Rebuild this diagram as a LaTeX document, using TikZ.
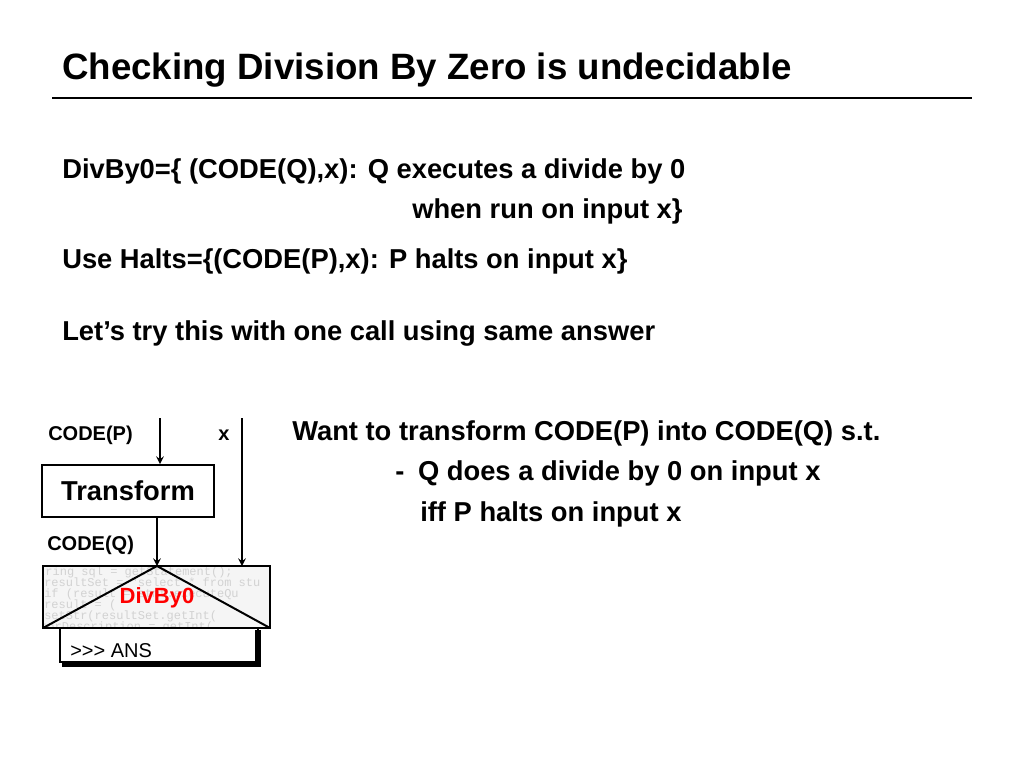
\documentclass[tikz,border=0pt]{standalone}
\usepackage{fontspec}
\setmainfont{Liberation Sans}[UprightFont={* Bold}, BoldFont={* Bold}]
\newfontfamily\ansfont{Liberation Sans}
\newfontfamily\codefont{Liberation Mono}
\usetikzlibrary{positioning}
\tikzset{
  txt/.style={anchor=base west, inner sep=0pt, font=\fontsize{20.5}{25}\selectfont},
  small/.style={anchor=base west, inner sep=0pt, font=\fontsize{15}{18}\selectfont},
  flow/.style={->, >=stealth, line width=1.5pt},
  codeline/.style={anchor=base west, inner sep=0pt, text=gray!35, font=\codefont\fontsize{9}{10}\selectfont}
}
\begin{document}
\begin{tikzpicture}[x=0.75pt, y=-0.75pt]
   \useasboundingbox (0,0) rectangle (1024,768);

   % Title
      \node[anchor=base west, inner sep=0pt, font=\fontsize{27.5}{32}\selectfont] (title) at (62,79) {Checking Division By Zero is undecidable};
      \draw[line width=2.2pt] (52,98) -- (972,98);

   % Definitions
      \node[txt] (def1) at (62,178) {\textbf{DivBy0}=\{ (CODE(\textbf{Q}),\textbf{x}): \textbf{Q} executes a divide by 0};
      \node[txt] (def2) at (412,218) {when run on input \textbf{x}\}};
      \node[txt] (use)  at (62,268) {Use \textbf{Halts}=\{(CODE(\textbf{P}),\textbf{x}): \textbf{P} halts on input \textbf{x}\}};
      \node[txt] (try)  at (62,340) {Let's try this with one call using same answer};

   % Goal
      \node[txt] (want) at (292,440) {Want to transform CODE(\textbf{P}) into CODE(\textbf{Q}) s.t.};
      \node[txt] (cnd1) at (395,480) {-\enspace\textbf{Q} does a divide by 0 on input \textbf{x}};
      \node[txt] (cnd2) at (420,521) {iff \textbf{P} halts on input \textbf{x}};

   % Machine
      \node[small] (codep) at (48,440) {CODE(\textbf{P})};
      \node[small] (xin)   at (218,440) {\textbf{x}};
      \node[draw, line width=1.5pt, minimum width=129pt, minimum height=39pt, inner sep=0pt,
            font=\fontsize{20.5}{24}\selectfont] (trans) at (128,491) {Transform};
      \node[small] (codeq) at (47,550) {CODE(\textbf{Q})};
      \coordinate (ptop) at (160,418);
      \coordinate (xtop) at (242,418);
      \coordinate (dtop) at (157,566);
      \coordinate (xbot) at (242,566);
      \begin{scope}
         \clip (43,566) rectangle (270,628);
         \fill[gray!8] (43,566) rectangle (270,628);
         \node[codeline] at (38,575) {tring sql = getStatement();};
         \node[codeline] at (44,586) {resultSet = "select * from stu};
         \node[codeline] at (44,597) {if (result = stmt.executeQu};
         \node[codeline] at (44,608) {result = (};
         \node[codeline] at (44,619) {setStr(resultSet.getInt(};
         \node[codeline] at (40,630) {torDescription = getInt(};
      \end{scope}
      \draw[line width=2pt] (43,566) rectangle (270,628);
      \draw[line width=1.5pt] (43,628) -- (dtop) -- (270,628);
      \node[text=red, font=\fontsize{16.5}{20}\selectfont, inner sep=0pt] (div) at (157,598) {DivBy0};
      \draw[line width=1.5pt] (60,628) rectangle (258,662);
      \draw[line width=4pt] (258,630) -- (258,664) -- (62,664);
      \node[anchor=base west, inner sep=0pt, font=\ansfont\fontsize{15}{18}\selectfont] (ans) at (70,657) {\textgreater\textgreater\textgreater{} ANS};
      \draw[flow] (ptop) -- (trans.north -| ptop);
      \draw[flow] (trans.south -| dtop) -- (dtop);
      \draw[flow] (xtop) -- (xbot);
\end{tikzpicture}
\end{document}
